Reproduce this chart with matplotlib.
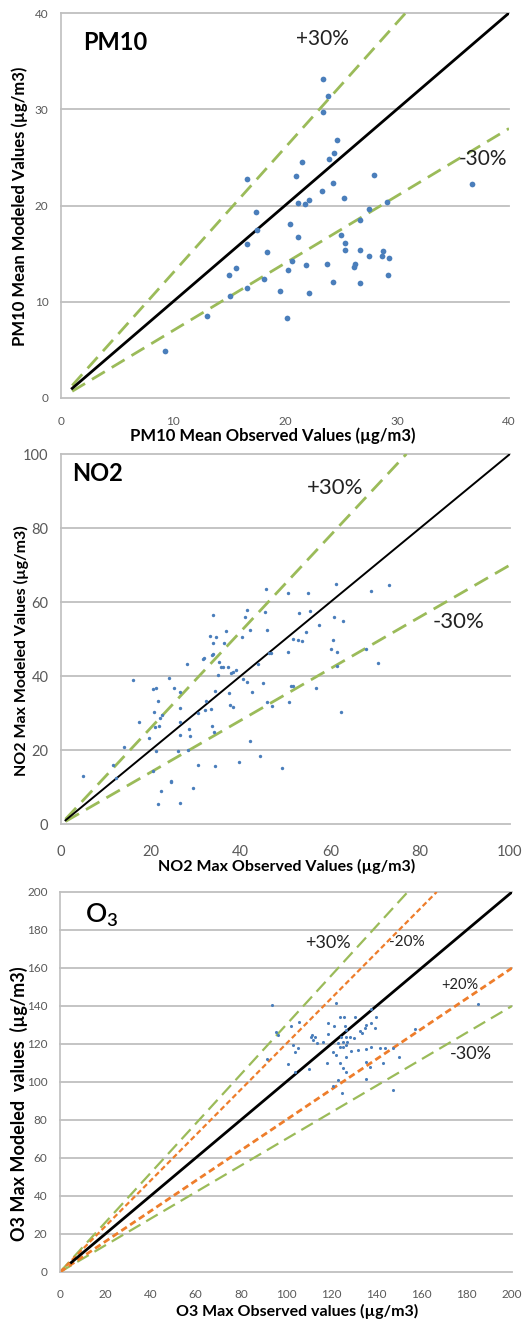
import matplotlib
matplotlib.use("Agg")
import matplotlib.pyplot as plt
import numpy as np

plt.rcParams['font.family'] = ['Lato', 'DejaVu Sans']

# ---------------- data ----------------
pm10_obs = [9.28, 13.06, 15.08, 14.99, 15.64, 16.65, 16.6, 16.6, 17.43, 17.46, 18.14, 18.38,
            19.57, 20.22, 20.25, 20.46, 20.64, 21.12, 20.94, 21.2, 21.56, 21.8, 21.86, 22.1,
            22.13, 23.29, 23.4, 23.43, 23.88, 23.79, 23.97, 24.3, 24.33, 24.36, 24.68, 25.04,
            25.28, 25.4, 25.34, 26.14, 26.29, 26.68, 26.68, 26.74, 27.51, 27.48, 27.99, 28.67,
            28.73, 29.12, 29.26, 29.23, 36.67]
pm10_mod = [4.85, 8.55, 10.56, 12.78, 13.54, 11.39, 16.0, 22.75, 19.29, 17.45, 12.33, 15.2,
            11.08, 8.35, 13.26, 18.04, 14.2, 16.73, 23.06, 20.22, 24.48, 20.19, 13.82, 20.54,
            10.94, 21.5, 29.68, 33.14, 31.34, 13.92, 24.83, 12.05, 22.34, 25.42, 26.77, 16.97,
            20.74, 16.1, 15.34, 13.58, 13.92, 15.34, 11.95, 18.46, 14.79, 19.64, 23.13, 14.79,
            15.24, 20.4, 14.58, 12.78, 22.23]

no2_obs = [4.97, 15.96, 14.0, 11.66, 12.25, 17.4, 19.6, 20.4, 20.6, 21.2, 20.7, 20.9, 21.2,
           21.5, 21.6, 21.8, 22.0, 22.4, 22.2, 24.1, 24.5, 24.6, 25.2, 26.0, 26.4, 26.6, 26.6,
           26.6, 26.6, 28.1, 28.2, 28.6, 28.7, 29.5, 30.6, 30.5, 31.6, 31.8, 32.1, 32.4, 33.2,
           33.5, 33.6, 33.6, 33.9, 33.9, 33.8, 34.1, 34.3, 34.3, 34.5, 34.9, 35.3, 35.6, 36.0,
           36.3, 36.7, 37.1, 37.5, 37.6, 38.2, 37.8, 38.2, 38.9, 39.7, 40.4, 40.5, 41.0, 41.5,
           41.5, 42.1, 42.2, 42.6, 43.8, 44.3, 44.9, 45.5, 45.7, 45.8, 45.9, 46.3, 46.7, 47.1,
           49.3, 50.6, 50.5, 50.7, 51.2, 51.6, 51.7, 52.7, 53.1, 53.6, 54.6, 55.1, 55.5, 56.9,
           57.5, 60.1, 60.5, 60.9, 61.2, 61.4, 61.5, 62.3, 62.7, 67.9, 69.0, 70.5, 73.1]
no2_mod = [12.97, 38.9, 20.7, 15.9, 12.3, 27.7, 23.2, 14.3, 36.5, 36.7, 30.4, 26.1, 19.7,
           5.3, 33.3, 26.5, 28.7, 29.5, 8.9, 39.5, 11.6, 11.3, 36.8, 19.7, 5.8, 35.8, 31.4,
           27.5, 24.1, 43.2, 20.0, 25.8, 23.9, 9.8, 30.1, 16.0, 44.6, 45.0, 30.8, 33.3, 50.9,
           31.2, 26.5, 45.8, 56.6, 49.0, 46.0, 24.9, 36.0, 15.8, 50.5, 40.4, 43.9, 42.5, 42.5,
           48.8, 52.1, 42.3, 35.3, 32.2, 31.7, 40.7, 41.2, 41.6, 16.8, 50.5, 39.1, 55.9, 57.8,
           38.5, 52.3, 22.3, 35.8, 43.2, 18.4, 38.0, 57.2, 63.5, 32.9, 52.3, 46.1, 46.1, 32.0,
           15.2, 62.3, 46.4, 32.9, 37.3, 37.4, 49.9, 49.7, 57.0, 49.4, 51.8, 62.5, 57.7, 36.7,
           53.8, 47.3, 49.6, 55.9, 64.9, 46.4, 42.8, 30.2, 54.8, 47.3, 63.1, 43.6, 64.5]

o3_obs = [93.9, 91.4, 95.5, 96.3, 110.1, 185.1, 122.0, 124.1, 125.7, 130.4, 139.7, 137.5,
          105.7, 102.4, 118.6, 121.3, 126.3, 126.5, 137.5, 135.6, 134.9, 132.6, 133.7, 139.3,
          118.6, 111.3, 113.0, 111.0, 112.0, 113.8, 116.4, 124.2, 126.7, 128.2, 130.1, 125.3,
          127.2, 126.7, 125.3, 123.1, 103.2, 105.4, 103.9, 101.0, 104.2, 123.8, 120.9, 122.3,
          126.7, 128.9, 131.9, 135.3, 137.8, 141.5, 143.7, 147.4, 150.0, 118.3, 123.8, 125.3,
          126.7, 135.6, 137.1, 143.0, 135.6, 123.1, 120.9, 124.8, 147.5, 157.0]
o3_mod = [140.5, 112.1, 126.5, 124.8, 106.8, 141.0, 141.7, 134.3, 134.3, 134.0, 134.0, 138.4,
          131.7, 129.4, 131.2, 129.4, 129.4, 127.3, 130.8, 130.0, 128.2, 127.0, 125.6, 128.2,
          125.1, 124.7, 123.8, 123.5, 122.1, 120.3, 120.9, 123.8, 123.8, 123.5, 123.0, 121.2,
          121.2, 119.5, 118.6, 120.7, 119.5, 117.7, 115.6, 109.5, 105.4, 118.2, 115.9, 114.2,
          113.3, 116.5, 116.8, 117.2, 118.6, 117.7, 117.7, 117.7, 113.3, 110.2, 109.8, 107.2,
          105.4, 110.7, 108.1, 109.8, 101.6, 101.1, 98.1, 94.4, 95.8, 127.7]

pm10_ticks = [0, 10, 20, 30, 40]
no2_ticks = [0, 20, 40, 60, 80, 100]
o3_ticks = [0, 20, 40, 60, 80, 100, 120, 140, 160, 180, 200]

# ---------------- style ----------------
BLUE = '#4A7EBB'
GREEN = '#9BBB59'
ORANGE = '#EE7D2B'
GRID = '#BFBFBF'
TICKC = '#595959'

fig = plt.figure(figsize=(5.28, 13.2), dpi=100)

ax1 = fig.add_axes([61/528, 1-398/1320, 448/528, 385/1320])
ax2 = fig.add_axes([61/528, 1-824/1320, 449/528, 370/1320])
ax3 = fig.add_axes([60/528, 1-1272/1320, 452/528, 380/1320])


def base(ax, ticks, tfs, xpad, ypad):
    lo, hi = ticks[0], ticks[-1]
    ax.set_xlim(lo, hi)
    ax.set_ylim(lo, hi)
    ax.set_xticks(ticks)
    ax.set_yticks(ticks)
    for s in ['top', 'right', 'bottom']:
        ax.spines[s].set_visible(False)
    ax.spines['left'].set_color(GRID)
    ax.spines['left'].set_linewidth(1.2)
    for t in ticks:
        ax.axhline(t, color=GRID, lw=1.3, zorder=0, clip_on=False)
    ax.tick_params(axis='x', length=0, pad=xpad, labelsize=tfs, labelcolor=TICKC)
    ax.tick_params(axis='y', length=0, pad=ypad, labelsize=tfs, labelcolor=TICKC)


# ---- Panel 1: PM10 ----
base(ax1, pm10_ticks, 8.5, 13, 9)
ax1.plot([1, 40], [1, 40], color='black', lw=2.0, zorder=3)
ax1.plot([1, 40 / 1.3], [1.3, 40], color=GREEN, lw=2.0, ls=(0, (5.4, 2.9)), zorder=2)
ax1.plot([1, 40], [0.7, 28], color=GREEN, lw=2.0, ls=(0, (5.4, 2.9)), zorder=2)
ax1.scatter(pm10_obs, pm10_mod, s=17, color=BLUE, zorder=4, linewidths=0)
ax1.text(4.8, 36.95, 'PM10', fontsize=17, fontweight='bold', ha='center', va='center')
ax1.text(23.3, 37.3, '+30%', fontsize=15, ha='center', va='center', color='#222222')
ax1.text(37.7, 24.8, '-30%', fontsize=15, ha='center', va='center', color='#222222')
ax1.set_xlabel('PM10 Mean Observed Values (µg/m3)', fontsize=12, fontweight='bold')
ax1.set_ylabel('PM10 Mean Modeled Values (µg/m3)', fontsize=12, fontweight='bold')
ax1.xaxis.set_label_coords(0.473, -0.099)
ax1.xaxis.label.set_va('center')
ax1.yaxis.set_label_coords(-0.0915, 0.499)
ax1.yaxis.label.set_va('center')

# ---- Panel 2: NO2 ----
base(ax2, no2_ticks, 10.5, 15, 9)
ax2.plot([1, 100], [1, 100], color='black', lw=1.4, zorder=3)
ax2.plot([1, 100 / 1.3], [1.3, 100], color=GREEN, lw=2.0, ls=(0, (5.6, 2.9)), zorder=2)
ax2.plot([1, 100], [0.7, 70], color=GREEN, lw=2.0, ls=(0, (5.6, 2.9)), zorder=2)
ax2.scatter(no2_obs, no2_mod, s=6, color=BLUE, zorder=4, linewidths=0)
ax2.text(8.2, 94.8, 'NO2', fontsize=17, fontweight='bold', ha='center', va='center')
ax2.text(61.0, 90.9, '+30%', fontsize=16, ha='center', va='center', color='#222222')
ax2.text(88.5, 54.7, '-30%', fontsize=16, ha='center', va='center', color='#222222')
ax2.set_xlabel('NO2 Max Observed Values (µg/m3)', fontsize=11.5, fontweight='bold')
ax2.set_ylabel('NO2 Max Modeled Values (µg/m3)', fontsize=11.5, fontweight='bold')
ax2.xaxis.set_label_coords(0.503, -0.116)
ax2.xaxis.label.set_va('center')
ax2.yaxis.set_label_coords(-0.087, 0.468)
ax2.yaxis.label.set_va('center')

# ---- Panel 3: O3 ----
base(ax3, o3_ticks, 8.5, 12, 9)
ax3.plot([5, 200], [5, 200], color='black', lw=2.0, zorder=3)
ax3.plot([0, 200 / 1.3], [0, 200], color=GREEN, lw=1.6, ls=(0, (6, 3)), zorder=2)
ax3.plot([0, 200], [0, 140], color=GREEN, lw=1.6, ls=(0, (6, 3)), zorder=2)
ax3.plot([0, 200 / 1.2], [0, 200], color=ORANGE, lw=1.6, ls=(0, (2.4, 1.4)), zorder=2)
ax3.plot([0, 200], [0, 160], color=ORANGE, lw=2.0, ls=(0, (2.4, 1.4)), zorder=2)
ax3.scatter(o3_obs, o3_mod, s=5, color=BLUE, zorder=4, linewidths=0)
ax3.text(11.0, 184.1, 'O$_\\mathregular{3}$', fontsize=19, fontweight='semibold',
         ha='left', va='baseline')
ax3.text(118.6, 173.2, '+30%', fontsize=13, ha='center', va='center', color='#222222')
ax3.text(153.3, 173.7, '-20%', fontsize=11, ha='center', va='center', color='#222222')
ax3.text(176.9, 151.0, '+20%', fontsize=10.5, ha='center', va='center', color='#222222')
ax3.text(181.6, 114.7, '-30%', fontsize=13, ha='center', va='center', color='#222222')
ax3.set_xlabel('O3 Max Observed values (µg/m3)', fontsize=11.5, fontweight='bold')
ax3.set_ylabel('O3 Max Modeled  values  (µg/m3)', fontsize=13, fontweight='bold')
ax3.xaxis.set_label_coords(0.524, -0.105)
ax3.xaxis.label.set_va('center')
ax3.yaxis.set_label_coords(-0.091, 0.442)
ax3.yaxis.label.set_va('center')

fig.savefig('out.png', dpi=100)
